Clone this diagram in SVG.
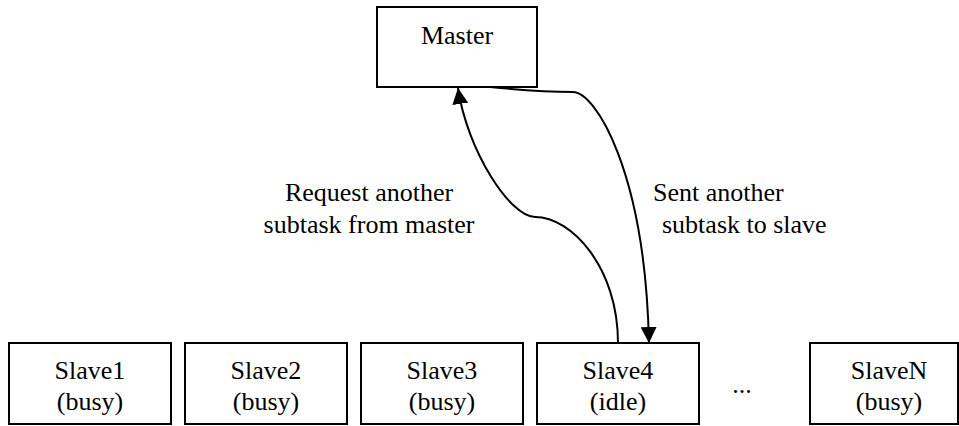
<svg xmlns="http://www.w3.org/2000/svg" width="959" height="426" viewBox="0 0 959 426">
  <style>
    .box { fill: #ffffff; stroke: #000000; stroke-width: 2; }
    text { font-family: 'Liberation Serif', 'DejaVu Serif', serif; font-size: 26px; fill: #000000; }
    .mid { text-anchor: middle; }
    .edge { fill: none; stroke: #000000; stroke-width: 2; marker-end: url(#arrow); }
  </style>
  <defs>
    <marker id="arrow" markerUnits="userSpaceOnUse" markerWidth="16" markerHeight="16" viewBox="0 0 16 16" refX="16" refY="8" orient="auto">
      <path d="M0,0 L16,8 L0,16 Z" fill="#000000"/>
    </marker>
  </defs>

  <rect width="959" height="426" fill="#ffffff"/>

  <g id="master">
    <rect class="box" x="377" y="7" width="160" height="80"/>
    <text class="mid" x="457" y="44">Master</text>
  </g>

  <g id="slave1">
    <rect class="box" x="9" y="343" width="162" height="81"/>
    <text class="mid" x="90" y="379">Slave1</text>
    <text class="mid" x="90" y="410">(busy)</text>
  </g>

  <g id="slave2">
    <rect class="box" x="185" y="343" width="162" height="81"/>
    <text class="mid" x="266" y="379">Slave2</text>
    <text class="mid" x="266" y="410">(busy)</text>
  </g>

  <g id="slave3">
    <rect class="box" x="361" y="343" width="162" height="81"/>
    <text class="mid" x="442" y="379">Slave3</text>
    <text class="mid" x="442" y="410">(busy)</text>
  </g>

  <g id="slave4">
    <rect class="box" x="537" y="343" width="162" height="81"/>
    <text class="mid" x="618" y="379">Slave4</text>
    <text class="mid" x="618" y="410">(idle)</text>
  </g>

  <g id="ellipsis">
    <text class="mid" x="742" y="393">...</text>
  </g>

  <g id="slaveN">
    <rect class="box" x="810" y="343" width="148" height="81"/>
    <text class="mid" x="889" y="379">SlaveN</text>
    <text class="mid" x="889" y="410">(busy)</text>
  </g>

  <g id="connectors">
    <!-- idle slave asks the master for more work -->
    <path class="edge" d="M618,343 C618,268 572,217 535,217 C510,217 467,150 458,88"/>
    <!-- master hands a new subtask to the slave -->
    <path class="edge" d="M490,87 C520,90 550,92 573,92 C595,92 645,170 649,343"/>
  </g>

  <g id="labels">
    <text class="mid" x="369" y="201">Request another</text>
    <text class="mid" x="369" y="233">subtask from master</text>
    <text x="653" y="201">Sent another</text>
    <text x="662" y="233">subtask to slave</text>
  </g>
</svg>
